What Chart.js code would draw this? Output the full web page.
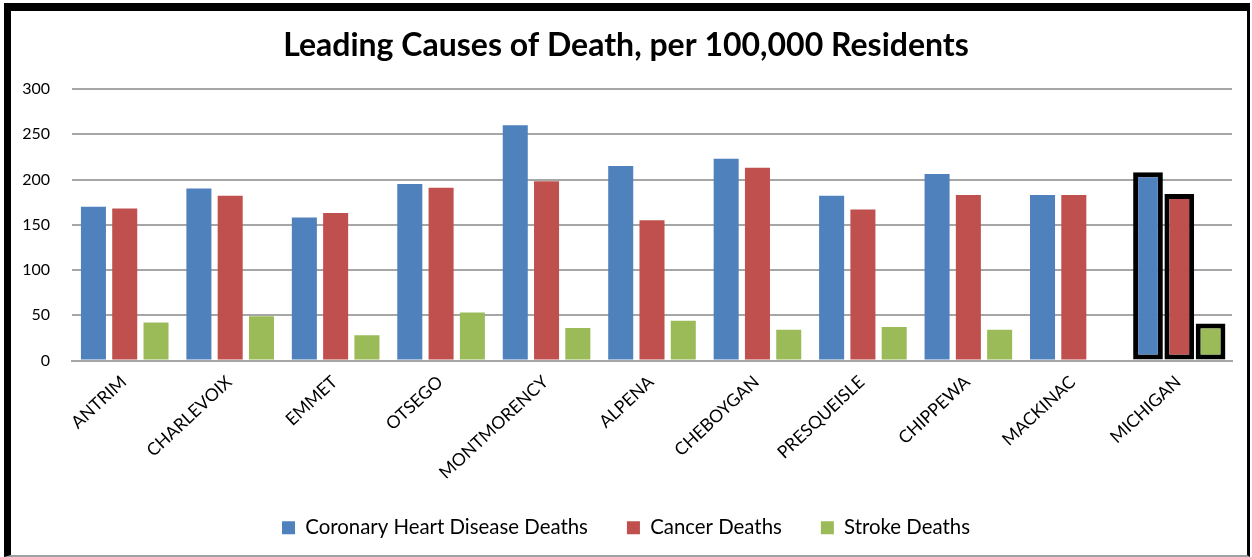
<!DOCTYPE html>
<html>
<head>
<meta charset="utf-8">
<script src="https://cdn.jsdelivr.net/npm/chart.js@4/dist/chart.umd.min.js"></script>
<style>
  html, body { margin: 0; padding: 0; background: #fff; }
  body { width: 1252px; height: 557px; position: relative; overflow: hidden; }
  #frame {
    position: absolute; left: 4px; top: 3px; width: 1236px; height: 544px;
    border-top: 8px solid #000; border-left: 7px solid #000;
    border-right: 3px solid #000; border-bottom: 2px solid #a0a0a0;
    background: #fff; overflow: hidden;
  }
  #wrap { position: absolute; left: 0; top: 0; width: 1236px; height: 537px; }
</style>
</head>
<body>
<div id="frame"><div id="wrap"><canvas id="c"></canvas></div></div>
<script>
const categories = ["ANTRIM", "CHARLEVOIX", "EMMET", "OTSEGO", "MONTMORENCY", "ALPENA", "CHEBOYGAN", "PRESQUEISLE", "CHIPPEWA", "MACKINAC", "MICHIGAN"];
const heartDeaths  = [170, 190, 158, 195, 260, 215, 223, 182, 206, 183, 208];
const cancerDeaths = [168, 182, 163, 191, 198, 155, 213, 167, 183, 183, 184];
const strokeDeaths = [42, 49, 28, 53, 36, 44, 34, 37, 34, null, 41];
const yTicks = [0, 50, 100, 150, 200, 250, 300];
const titleText = "Leading Causes of Death, per 100,000 Residents";
const seriesNames = ["Coronary Heart Disease Deaths", "Cancer Deaths", "Stroke Deaths"];
const seriesColors = ["#4f81bd", "#c0504d", "#9bbb59"];
const highlightCategory = "MICHIGAN";

const FONT = "Lato, 'Open Sans', sans-serif";
const hi = categories.indexOf(highlightCategory);

function countyDataset(label, values, color, stack) {
  return {
    label, stack,
    data: values.map((v, i) => i === hi ? null : v),
    backgroundColor: color,
    borderWidth: 0,
    categoryPercentage: 0.89,
    barPercentage: 0.8
  };
}
function stateDataset(label, values, color, stack) {
  return {
    label, stack, isState: true,
    data: values.map((v, i) => i === hi ? v : null),
    backgroundColor: color,
    borderColor: "#000",
    borderWidth: 5,
    borderSkipped: false,
    categoryPercentage: 0.89,
    barPercentage: 0.95
  };
}

new Chart(document.getElementById("c"), {
  type: "bar",
  data: {
    labels: categories,
    datasets: [
      countyDataset(seriesNames[0], heartDeaths, seriesColors[0], "h"),
      countyDataset(seriesNames[1], cancerDeaths, seriesColors[1], "c"),
      countyDataset(seriesNames[2], strokeDeaths, seriesColors[2], "s"),
      stateDataset(seriesNames[0], heartDeaths, seriesColors[0], "h"),
      stateDataset(seriesNames[1], cancerDeaths, seriesColors[1], "c"),
      stateDataset(seriesNames[2], strokeDeaths, seriesColors[2], "s")
    ]
  },
  options: {
    responsive: true,
    maintainAspectRatio: false,
    animation: false,
    layout: { padding: { left: 9, right: 15, top: 0, bottom: 0 } },
    plugins: {
      title: {
        display: true, text: titleText, color: "#000",
        font: { family: FONT, size: 32, weight: "bold" },
        padding: { top: 15, bottom: 24.6 }
      },
      legend: {
        position: "bottom",
        labels: {
          color: "#000", boxWidth: 13, boxHeight: 13, padding: 39,
          font: { family: FONT, size: 20.4 },
          filter: (item, data) => !data.datasets[item.datasetIndex].isState
        }
      },
      tooltip: { enabled: false }
    },
    scales: {
      x: {
        grid: { display: false },
        border: { display: true, color: "#a6a6a6", width: 2 },
        afterFit: s => { s.height = 118; },
        ticks: {
          color: "#000", maxRotation: 43, minRotation: 43, autoSkip: false,
          font: { family: FONT, size: 17.5 }, padding: 3, labelOffset: -1
        }
      },
      y: {
        min: 0, max: 300, stacked: false,
        afterBuildTicks: s => { s.ticks = yTicks.map(v => ({ value: v })); },
        afterFit: s => { s.width = 52; },
        grid: { color: "#a6a6a6", lineWidth: 2, drawTicks: false },
        border: { display: false },
        ticks: { color: "#000", padding: 22, font: { family: FONT, size: 16 } }
      }
    }
  }
});
</script>
</body>
</html>
